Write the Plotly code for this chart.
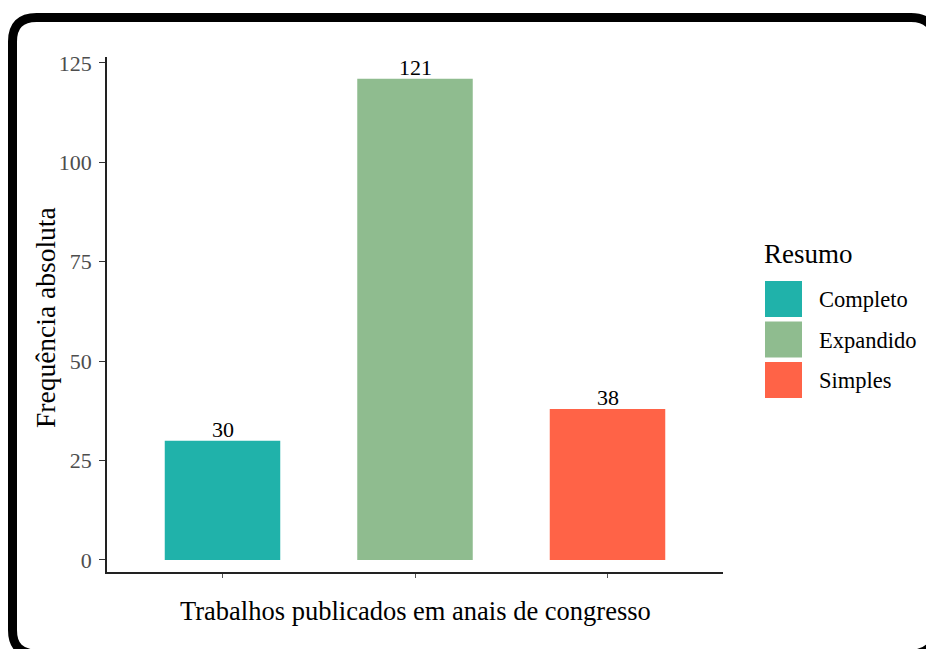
import plotly.graph_objects as go

categories = ["Completo", "Expandido", "Simples"]
values = [30, 121, 38]
colors = ["#20B2AA", "#8FBC8F", "#FF6347"]
y_ticks = [0, 25, 50, 75, 100, 125]
x_title = "Trabalhos publicados em anais de congresso"
y_title = "Frequência absoluta"
legend_title = "Resumo"

W, H = 926, 649
L, T = 107, 57
R = W - 723
B = H - 572
pw = W - L - R
ph = H - T - B


def px(x):
    return (x - L) / pw


def py(y):
    return (H - B - y) / ph


FONT = "Liberation Serif"

fig = go.Figure()
fig.add_trace(go.Bar(
    x=categories, y=values, width=0.6,
    marker=dict(color=colors, line=dict(width=0)),
    showlegend=False, hoverinfo="x+y",
))

annotations = []
# value labels above bars
for cat, val in zip(categories, values):
    annotations.append(dict(x=cat, y=val, xref="x", yref="y", text=str(val), showarrow=False,
                            xanchor="center", yanchor="bottom", yshift=-3,
                            font=dict(family=FONT, size=22, color="black")))

# rounded border frame (partly outside the visible page, as in the reference)
x0, y0, x1, y1, r = 12.5, 17.5, 935, 654, 24
path = (f"M {px(x0+r)},{py(y0)} L {px(x1-r)},{py(y0)} Q {px(x1)},{py(y0)} {px(x1)},{py(y0+r)} "
        f"L {px(x1)},{py(y1-r)} Q {px(x1)},{py(y1)} {px(x1-r)},{py(y1)} "
        f"L {px(x0+r)},{py(y1)} Q {px(x0)},{py(y1)} {px(x0)},{py(y1-r)} "
        f"L {px(x0)},{py(y0+r)} Q {px(x0)},{py(y0)} {px(x0+r)},{py(y0)} Z")
fig.add_shape(type="path", xref="paper", yref="paper", path=path,
              line=dict(color="black", width=9), layer="above")

# axis titles
annotations.append(dict(xref="paper", yref="paper", x=px(415), y=py(611), text=x_title,
                        showarrow=False, xanchor="center", yanchor="middle",
                        font=dict(family=FONT, size=26.5, color="black")))
annotations.append(dict(xref="paper", yref="paper", x=px(45), y=py(318), text=y_title,
                        showarrow=False, xanchor="center", yanchor="middle", textangle=-90,
                        font=dict(family=FONT, size=27.5, color="black")))

# manual legend
annotations.append(dict(xref="paper", yref="paper", x=px(762), y=py(254), text=legend_title,
                        showarrow=False, xanchor="left", yanchor="middle",
                        font=dict(family=FONT, size=27, color="black")))
for i, (cat, col) in enumerate(zip(categories, colors)):
    top = 281 + i * 40.5
    fig.add_shape(type="rect", xref="paper", yref="paper",
                  x0=px(765), x1=px(802), y0=py(top), y1=py(top + 36),
                  fillcolor=col, line=dict(width=0))
    annotations.append(dict(xref="paper", yref="paper", x=px(817), y=py(top + 18.5), text=cat,
                            showarrow=False, xanchor="left", yanchor="middle",
                            font=dict(family=FONT, size=22.5, color="black")))

fig.update_layout(
    width=W, height=H,
    margin=dict(l=L, r=R, t=T, b=B, autoexpand=False),
    paper_bgcolor="white", plot_bgcolor="white",
    font=dict(family=FONT),
    annotations=annotations,
    xaxis=dict(
        range=[-0.6, 2.6], showline=True, linecolor="#222", linewidth=1.5,
        ticks="outside", ticklen=4, tickcolor="#555", tickwidth=1,
        showticklabels=False, showgrid=False, zeroline=False,
    ),
    yaxis=dict(
        range=[-3.02, 126.5], tickvals=y_ticks, showline=True, linecolor="#222", linewidth=1.5,
        ticks="outside", ticklen=6, tickcolor="#333", tickwidth=1, ticklabelstandoff=3,
        tickfont=dict(family=FONT, size=22, color="#4D4D4D"),
        showgrid=False, zeroline=False,
    ),
)

fig.write_html("out.html", config={"displayModeBar": False},
               post_script="document.body.style.margin='0';document.body.style.overflow='hidden';")
